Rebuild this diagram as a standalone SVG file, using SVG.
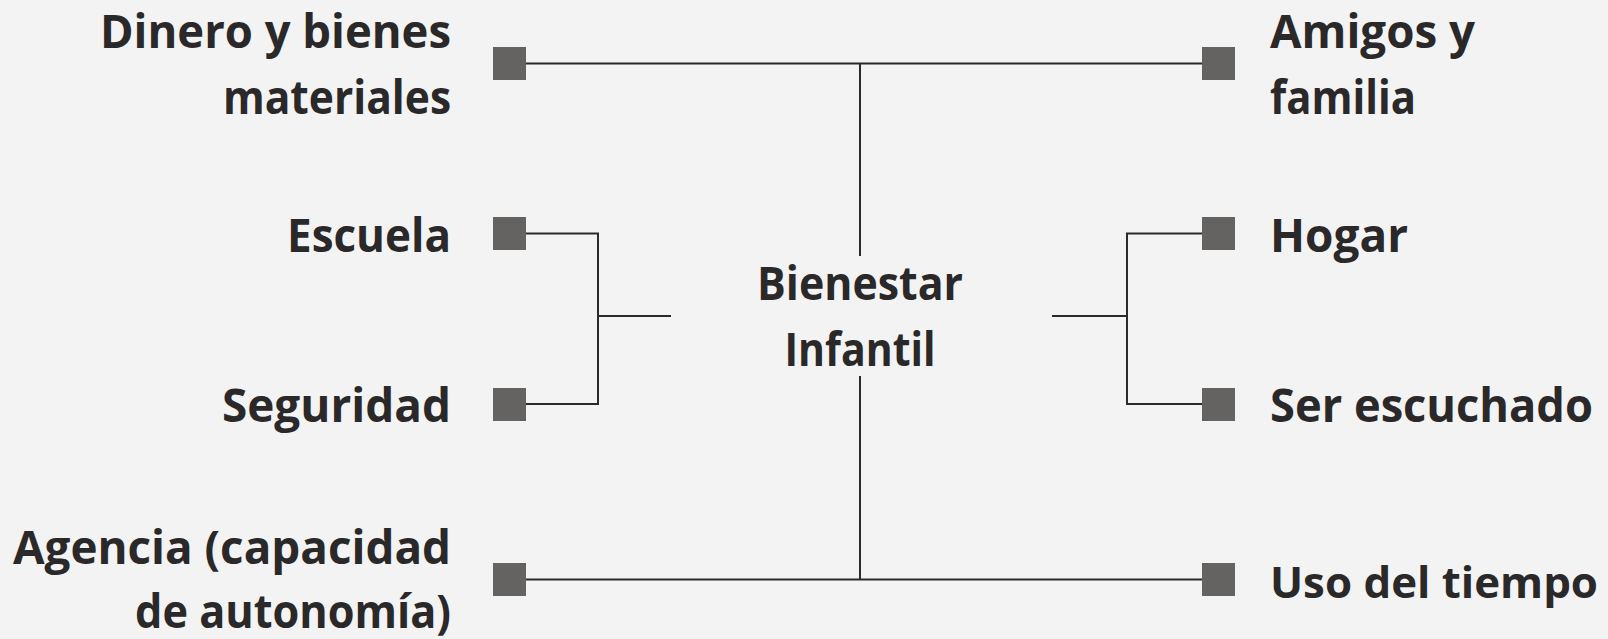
<svg xmlns="http://www.w3.org/2000/svg" width="1608" height="639" viewBox="0 0 1608 639">
<style>
.t{font-family:"Open Sans","Liberation Sans",sans-serif;font-weight:700;font-size:46px;fill:#2a2828}
.l{text-anchor:end}
.c{text-anchor:middle}
.sq{fill:#656361}
.ln{stroke:#2b2a2a;stroke-width:2;fill:none}
</style>
<rect width="1608" height="639" fill="#f3f3f3"/>
<g id="connectors">
<path class="ln" d="M526 63.5H1202M860 63.5V256M860 376V579.5M526 579.5H1202"/>
<path class="ln" d="M526 233.5H598V404H526M598 316H671"/>
<path class="ln" d="M1202 233.5H1127V404H1202M1127 316H1052"/>
</g>
<g id="center"><text class="t c" x="860" y="300" textLength="206" lengthAdjust="spacingAndGlyphs">Bienestar</text><text class="t c" x="860" y="366" textLength="151" lengthAdjust="spacingAndGlyphs">Infantil</text></g>
<g id="dinero"><rect class="sq" x="493" y="47" width="33" height="33"/><text class="t l" x="451" y="48" textLength="351" lengthAdjust="spacingAndGlyphs">Dinero y bienes</text><text class="t l" x="451" y="114" textLength="228" lengthAdjust="spacingAndGlyphs">materiales</text></g>
<g id="escuela"><rect class="sq" x="493" y="217" width="33" height="33"/><text class="t l" x="451" y="252" textLength="164" lengthAdjust="spacingAndGlyphs">Escuela</text></g>
<g id="seguridad"><rect class="sq" x="493" y="388" width="33" height="33"/><text class="t l" x="451" y="422" textLength="229" lengthAdjust="spacingAndGlyphs">Seguridad</text></g>
<g id="agencia"><rect class="sq" x="493" y="563" width="33" height="33"/><text class="t l" x="451" y="564" textLength="438" lengthAdjust="spacingAndGlyphs">Agencia (capacidad</text><text class="t l" x="451" y="628" textLength="316" lengthAdjust="spacingAndGlyphs">de autonomía)</text></g>
<g id="amigos"><rect class="sq" x="1202" y="47" width="33" height="33"/><text class="t" x="1270" y="48" textLength="205" lengthAdjust="spacingAndGlyphs">Amigos y</text><text class="t" x="1270" y="114" textLength="146" lengthAdjust="spacingAndGlyphs">familia</text></g>
<g id="hogar"><rect class="sq" x="1202" y="217" width="33" height="33"/><text class="t" x="1270" y="252" textLength="138" lengthAdjust="spacingAndGlyphs">Hogar</text></g>
<g id="escuchado"><rect class="sq" x="1202" y="388" width="33" height="33"/><text class="t" x="1270" y="422" textLength="323" lengthAdjust="spacingAndGlyphs">Ser escuchado</text></g>
<g id="tiempo"><rect class="sq" x="1202" y="563" width="33" height="33"/><text class="t" x="1270" y="598" style="font-size:43.5px" textLength="328" lengthAdjust="spacingAndGlyphs">Uso del tiempo</text></g>
</svg>
